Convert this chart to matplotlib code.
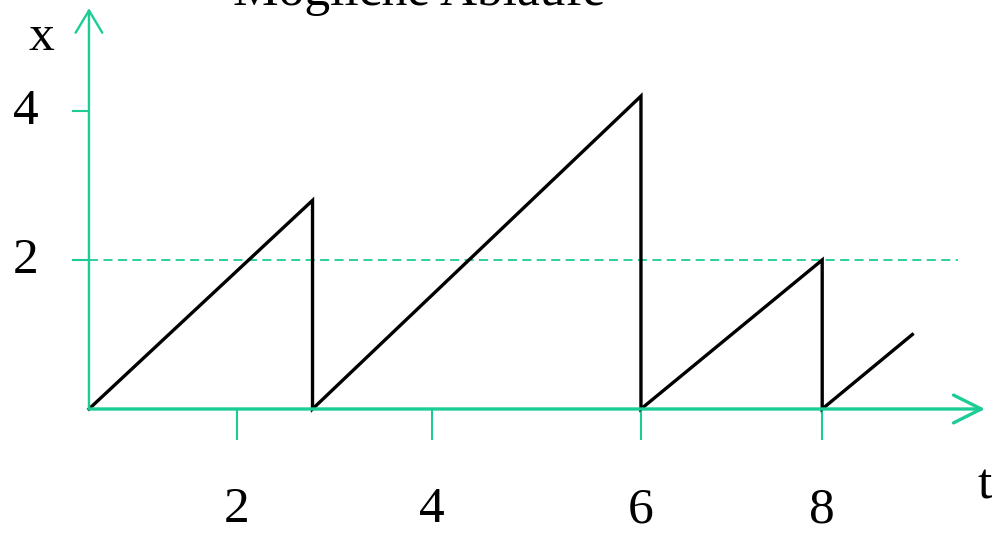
# sawtooth.py
# Mögliche Abläufe: sketch of a sawtooth path x(t) against a dashed level.

from matplotlib import pyplot as plt
from matplotlib import transforms

GREEN = '#1ccc96'

# path of x over t
t_vals = [0, 2.43, 2.43, 6.0, 6.0, 7.97, 7.97, 8.95]
x_vals = [0, 2.8, 0, 4.2, 0, 2.0, 0, 1.0]

level = 2
level_end = 9.45

# the sketch spaces its ticks unevenly, keep where they sit
xtick_pos = [1.61, 3.73, 6.0, 7.97]
xtick_labels = ['2', '4', '6', '8']
ytick_pos = [2, 4]
ytick_labels = ['2', '4']

t_arrow = 9.74
x_arrow = 5.38

plt.rcParams['font.family'] = ['Liberation Serif', 'DejaVu Serif']

fig = plt.figure(figsize=(9.97, 5.34), dpi=100)
ax = fig.add_axes([0, 0, 1, 1])
ax.set_xlim(-0.967, 9.87)
ax.set_ylim(-1.678, 5.49)

for side in ['top', 'right', 'bottom', 'left']:
    ax.spines[side].set_visible(False)
ax.spines['bottom'].set_position(('data', 0))
ax.spines['left'].set_position(('data', 0))

# axes drawn as arrows
ax.annotate('', xy=(t_arrow, 0), xytext=(0, 0),
            arrowprops=dict(arrowstyle='->,head_length=0.5,head_width=0.25',
                            color=GREEN, lw=2.4, mutation_scale=40,
                            shrinkA=0, shrinkB=0))
ax.annotate('', xy=(0, x_arrow), xytext=(0, 0),
            arrowprops=dict(arrowstyle='->,head_length=0.5,head_width=0.3',
                            color=GREEN, lw=1.7, mutation_scale=32,
                            shrinkA=0, shrinkB=0))

# dashed level line
ax.plot([0, level_end], [level, level], color=GREEN, lw=1.3,
        linestyle=(0, (5, 3)))

ax.plot(t_vals, x_vals, color='black', lw=2.4, solid_joinstyle='miter')

ax.set_xticks(xtick_pos)
ax.set_xticklabels(xtick_labels)
ax.set_yticks(ytick_pos)
ax.set_yticklabels(ytick_labels)
ax.tick_params(axis='x', direction='out', length=22, width=1.5,
               color=GREEN, pad=34, labelsize=37)
ax.tick_params(axis='y', direction='out', length=12, width=1.5,
               color=GREEN, pad=24, labelsize=37)

# y labels sit a little above their ticks in the sketch
shift = transforms.ScaledTranslation(0, 5 / 100, fig.dpi_scale_trans)
for lab in ax.get_yticklabels():
    lab.set_transform(lab.get_transform() + shift)

fig.text(0.042, 0.93, 'x', fontsize=37, ha='center', va='center')
fig.text(0.988, 0.09, 't', fontsize=37, ha='center', va='center')
fig.text(0.42, 0.99, 'Mögliche Abläufe', fontsize=37,
         ha='center', va='baseline')

plt.savefig('out.png', dpi=100)
